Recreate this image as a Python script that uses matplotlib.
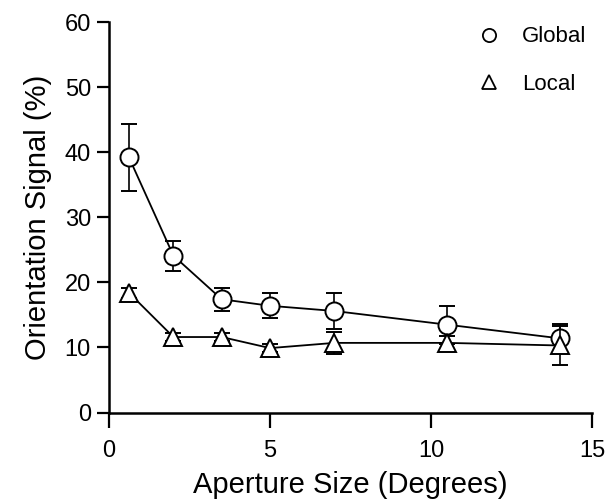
import matplotlib
matplotlib.use("Agg")
import matplotlib.pyplot as plt
from matplotlib.lines import Line2D

plt.rcParams['font.family'] = ['Liberation Sans', 'DejaVu Sans']

# aperture sizes (degrees)
aperture = [0.62, 2, 3.5, 5, 7, 10.5, 14]

# orientation signal (%) and error bars
global_signal = [39.2, 24.1, 17.4, 16.4, 15.6, 13.5, 11.4]
global_err = [5.2, 2.3, 1.8, 1.9, 2.7, 2.9, 2.2]
local_signal = [18.4, 11.6, 11.6, 9.9, 10.7, 10.7, 10.3]
local_err = [0.8, 0.6, 0.6, 0.6, 1.7, 1.0, 3.0]

x_ticks = [0, 5, 10, 15]
y_ticks = [0, 10, 20, 30, 40, 50, 60]

fig = plt.figure(figsize=(6.11, 5.04), dpi=100)
ax = fig.add_axes([0.1784, 0.1815, 0.7905, 0.7748])

ax.errorbar(aperture, global_signal, yerr=global_err, color='black',
            lw=1.3, marker='o', ms=13, mfc='white', mec='black', mew=1.4,
            elinewidth=1.2, capsize=6, capthick=1.4, zorder=3)
ax.errorbar(aperture, local_signal, yerr=local_err, color='black',
            lw=1.3, marker='^', ms=13, mfc='white', mec='black', mew=1.4,
            elinewidth=1.2, capsize=6, capthick=1.4, zorder=4)

ax.set_xlim(0, 15)
ax.set_ylim(0, 60)
ax.set_xticks(x_ticks)
ax.set_yticks(y_ticks)

for side in ['top', 'right']:
    ax.spines[side].set_visible(False)
for side in ['left', 'bottom']:
    ax.spines[side].set_linewidth(1.8)

ax.tick_params(axis='x', direction='out', length=11, width=1.6,
               labelsize=17, pad=9)
ax.tick_params(axis='y', direction='out', length=9, width=1.6,
               labelsize=17, pad=4)

ax.set_xlabel('Aperture Size (Degrees)', fontsize=21, labelpad=6)
ax.set_ylabel('Orientation Signal (%)', fontsize=21, labelpad=9)

handles = [
    Line2D([], [], ls='none', marker='o', ms=9.5, mfc='white', mec='black', mew=1.3),
    Line2D([], [], ls='none', marker='^', ms=9.5, mfc='white', mec='black', mew=1.3),
]
ax.legend(handles, ['Global', 'Local'], loc='upper right', frameon=False,
          fontsize=16, handletextpad=0.5, labelspacing=1.2,
          bbox_to_anchor=(1.03, 1.04))

fig.savefig('out.png', dpi=100)
